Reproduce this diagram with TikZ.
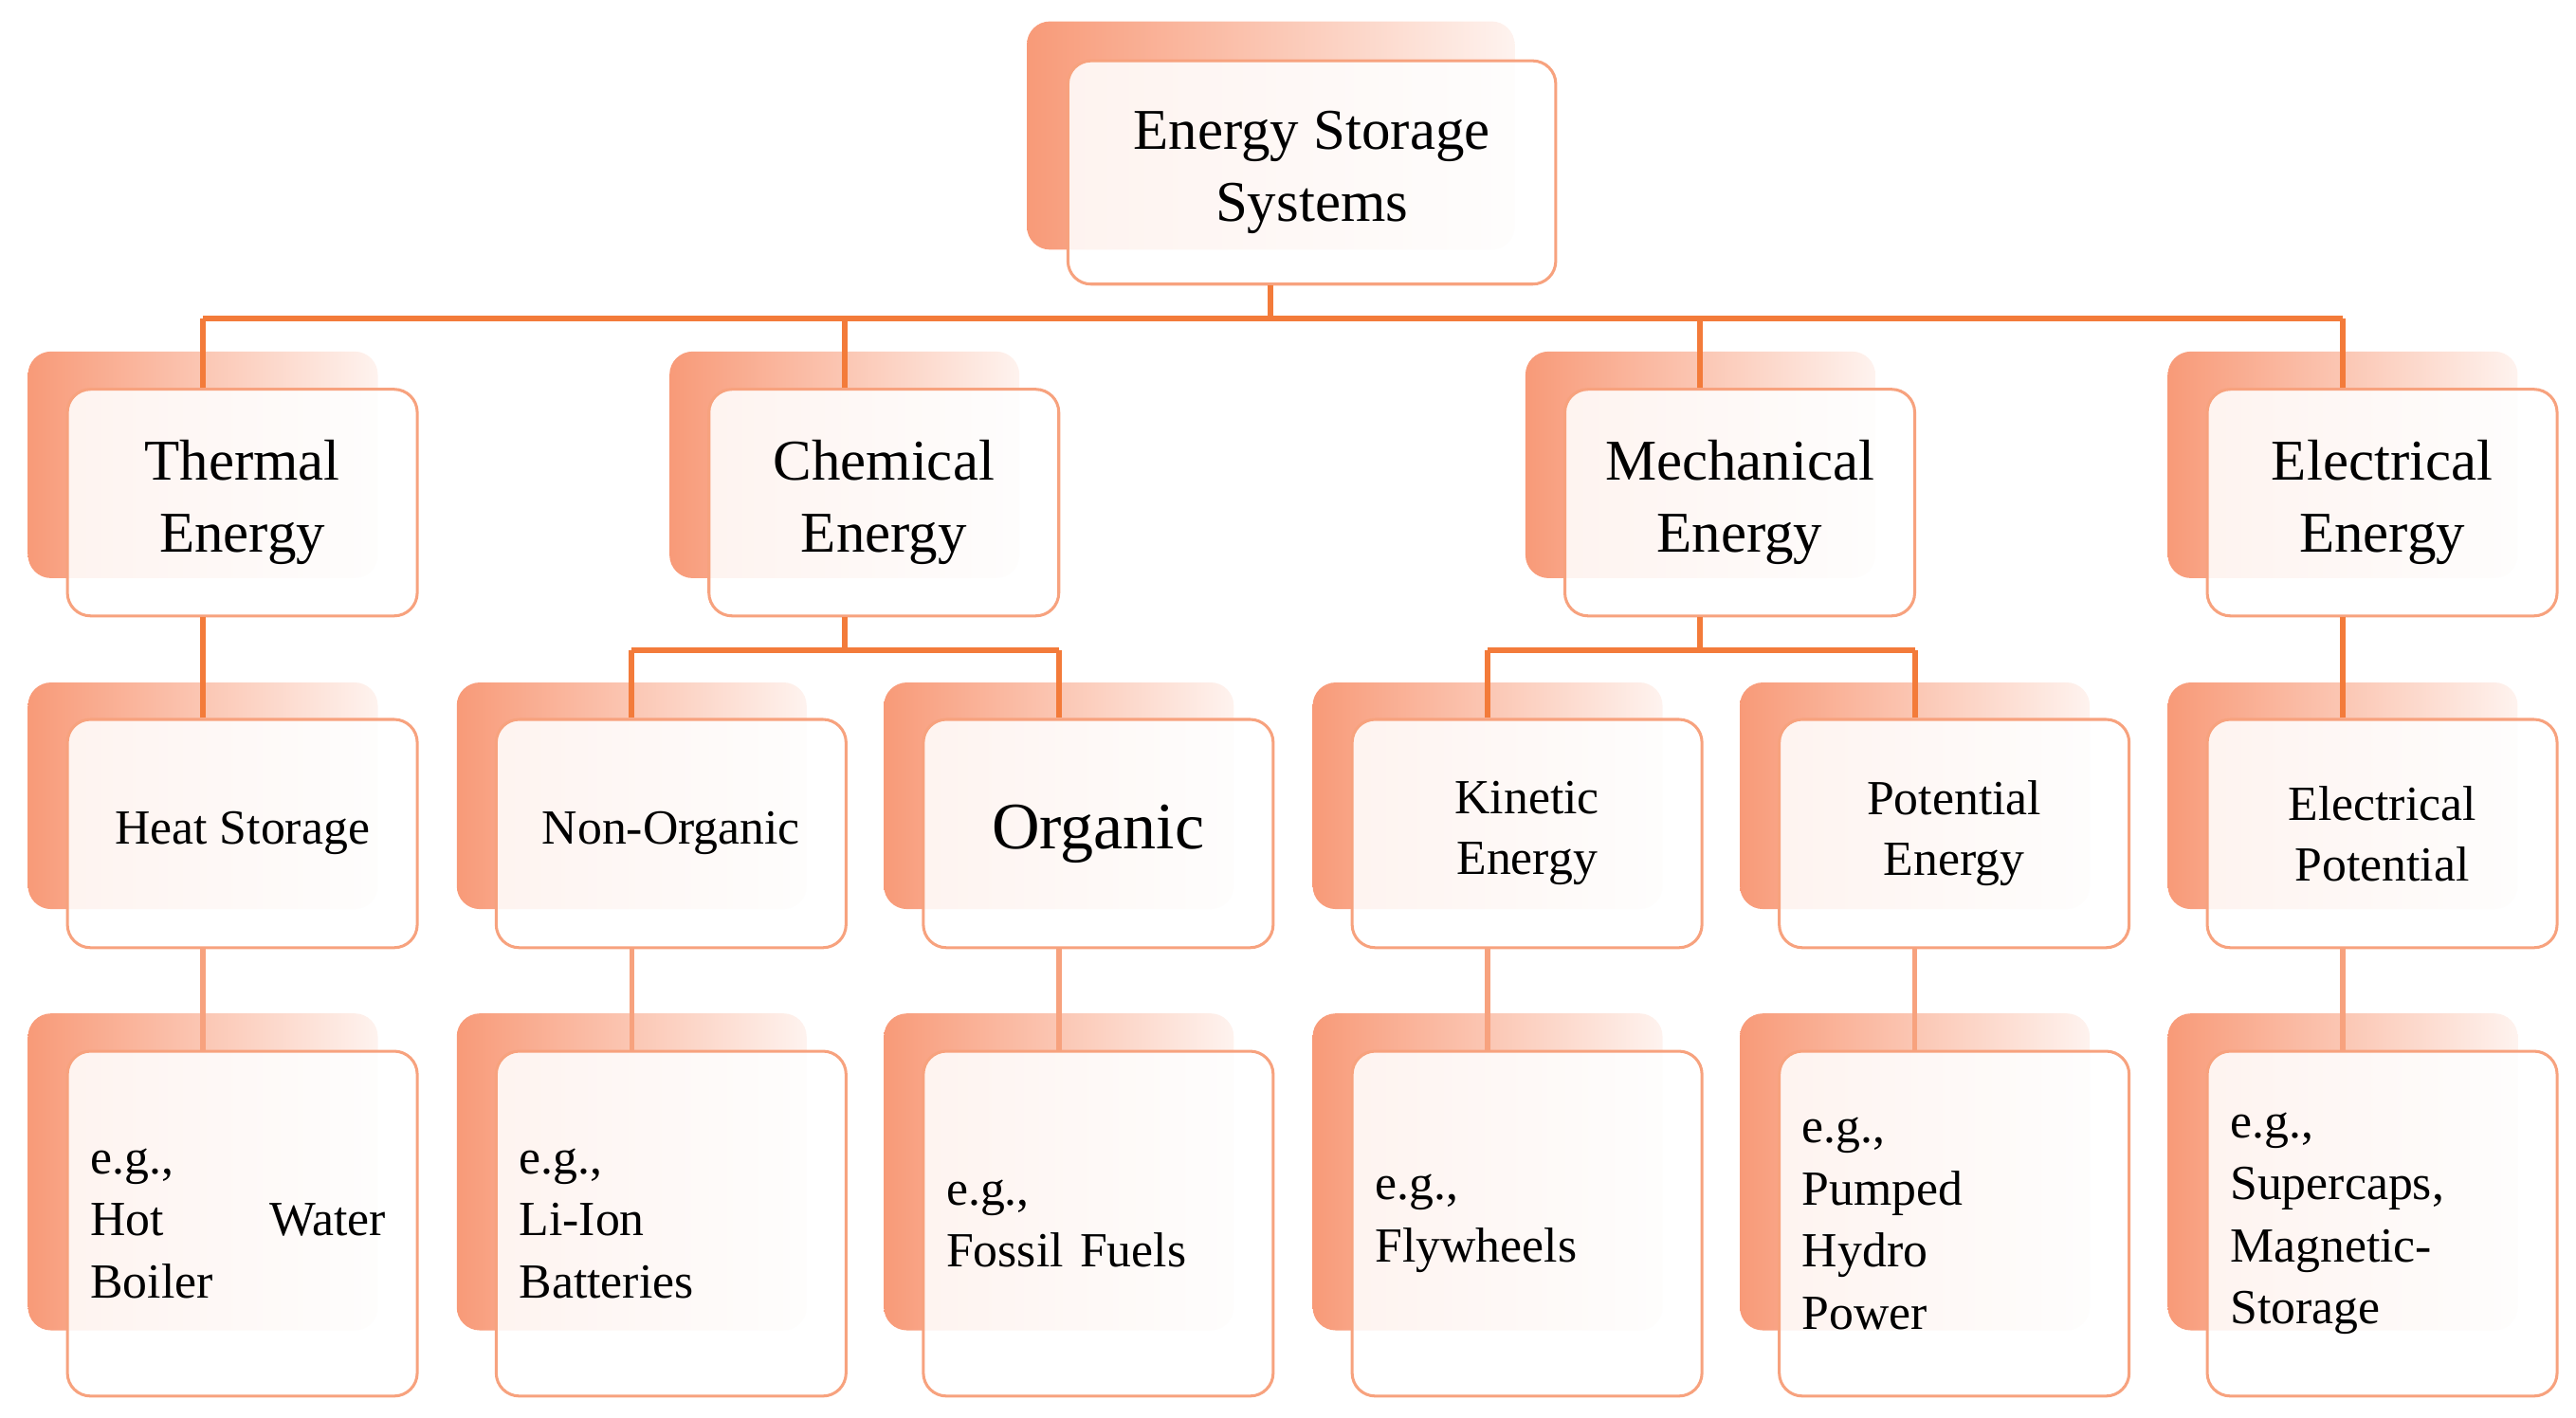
\documentclass[tikz,border=0pt]{standalone}
\usepackage{fontspec}
\setmainfont{Liberation Serif}
\definecolor{sal}{HTML}{F89A78}
\definecolor{bord}{HTML}{F7A27E}
\definecolor{ln}{HTML}{F37B3A}
\begin{document}
\begin{tikzpicture}[x=0.02cm,y=-0.02cm,
 back/.style={rectangle,rounded corners=8pt,draw=none,left color=sal,right color=sal!12,inner sep=0},
 front/.style={rectangle,rounded corners=8pt,draw=bord,line width=1pt,fill=white,fill opacity=0.88,text opacity=1,inner sep=0,align=center},
 conn/.style={draw=ln,line width=2pt}]
\useasboundingbox (0,0) rectangle (1568,863);
% top
\node[back,minimum width=5.94cm,minimum height=2.78cm] (topb) at (773.5,82.5) {};
\node[front,minimum width=5.94cm,minimum height=2.72cm,font=\fontsize{20}{25}\selectfont] (top) at (798.5,105) {Energy Storage\\Systems};
% level 2
\foreach \n/\x/\t in {th/147.5/Thermal\\Energy,ch/538/Chemical\\Energy,me/1059/Mechanical\\Energy,el/1450/Electrical\\Energy}{
 \node[back,minimum width=4.26cm,minimum height=2.76cm] (\n b) at (\x-24,283) {};
 \node[front,minimum width=4.26cm,minimum height=2.76cm,font=\fontsize{20}{25}\selectfont] (\n) at (\x,306) {\t};
}
% level 3
\foreach \n/\x/\t/\f in {hs/147.5/Heat Storage/17,no/408.5/Non-Organic/17,or/668.5/Organic/23,ki/929.5/Kinetic\\Energy/17,po/1189.5/Potential\\Energy/17,ep/1450/Electrical\\Potential/17}{
 \node[back,minimum width=4.26cm,minimum height=2.76cm] (\n b) at (\x-24,484.5) {};
 \node[front,minimum width=4.26cm,minimum height=2.78cm,font=\fontsize{\f}{21}\selectfont] (\n) at (\x,507.5) {\t};
}
% level 4
\foreach \n/\x/\t in {ex1/147.5/{e.g.,\\\makebox[3.6cm][l]{Hot\hfill Water}\\Boiler},ex2/408.5/{e.g.,\\Li-Ion\\Batteries},ex3/668.5/{e.g.,\\Fossil Fuels},ex4/929.5/{e.g.,\\Flywheels},ex5/1189.5/{e.g.,\\Pumped\\Hydro\\Power},ex6/1450/{e.g.,\\Supercaps,\\Magnetic-\\Storage}}{
 \node[back,minimum width=4.26cm,minimum height=3.86cm] (\n b) at (\x-24,713.5) {};
 \node[front,minimum width=4.26cm,minimum height=4.2cm,font=\fontsize{17}{21.5}\selectfont,text width=3.7cm,align=left] (\n) at (\x,745) {\t};
}
% connectors
\draw[conn] (topb.center |- top.south) -- ++(0,20) coordinate (hbar);
\draw[conn] (thb.center |- hbar) -- (elb.center |- hbar);
\foreach \n in {th,ch,me,el}{\draw[conn] (\n b.center |- hbar) -- (\n b.center |- \n.north);}
\draw[conn] (thb.center |- th.south) -- (thb.center |- hs.north);
\draw[conn] (chb.center |- ch.south) -- ++(0,20) coordinate (cbar);
\draw[conn] (nob.center |- cbar) -- (orb.center |- cbar);
\draw[conn] (nob.center |- cbar) -- (nob.center |- no.north);
\draw[conn] (orb.center |- cbar) -- (orb.center |- or.north);
\draw[conn] (meb.center |- me.south) -- ++(0,20) coordinate (mbar);
\draw[conn] (kib.center |- mbar) -- (pob.center |- mbar);
\draw[conn] (kib.center |- mbar) -- (kib.center |- ki.north);
\draw[conn] (pob.center |- mbar) -- (pob.center |- po.north);
\draw[conn] (elb.center |- el.south) -- (elb.center |- ep.north);
\foreach \a/\b in {hs/ex1,no/ex2,or/ex3,ki/ex4,po/ex5,ep/ex6}{\draw[conn,line width=1.8pt,draw=bord] (\a b.center |- \a.south) -- (\a b.center |- \b.north);}
\end{tikzpicture}
\end{document}
